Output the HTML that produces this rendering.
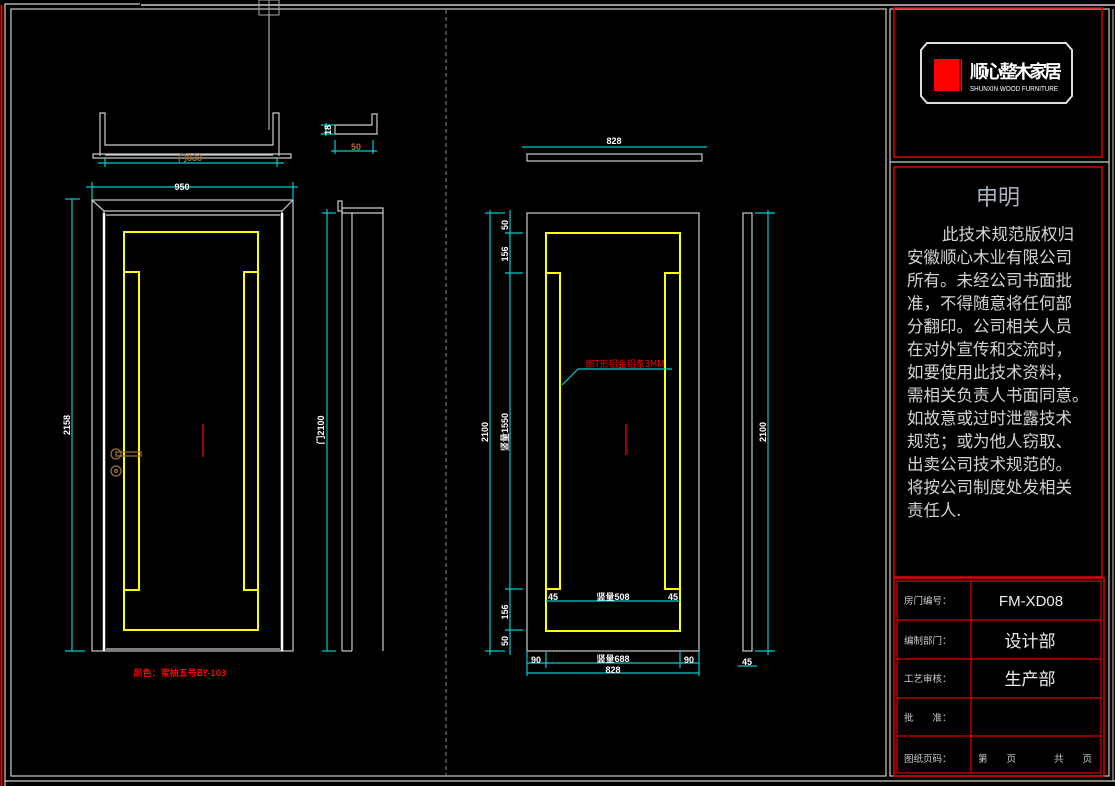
<!DOCTYPE html>
<html><head><meta charset="utf-8"><style>
html,body{margin:0;padding:0;background:#000;}
svg{display:block;font-family:"Liberation Sans","Noto Sans CJK SC",sans-serif;}
</style></head><body>
<svg width="1115" height="786" viewBox="0 0 1115 786" xmlns="http://www.w3.org/2000/svg">
<rect width="1115" height="786" fill="#000"/>
<!-- borders -->
<line x1="1.5" y1="5" x2="1.5" y2="786" stroke="#e00000" stroke-width="2"/>
<polyline points="5,786 5,4 140,4" fill="none" stroke="#ccc" stroke-width="1.2"/>
<line x1="141" y1="5" x2="1115" y2="5" stroke="#ccc" stroke-width="1.5"/>
<rect x="11" y="9" width="875" height="767" fill="none" stroke="#ccc" stroke-width="1.2"/>
<line x1="5" y1="781" x2="1115" y2="781" stroke="#ccc" stroke-width="1.2"/>
<rect x="890" y="9" width="219" height="767" fill="none" stroke="#ccc" stroke-width="1.2"/>
<line x1="890" y1="162" x2="1109" y2="162" stroke="#ccc" stroke-width="1.2"/>
<line x1="1113" y1="9" x2="1113" y2="781" stroke="#ccc" stroke-width="1"/>
<line x1="446" y1="10" x2="446" y2="776" stroke="#888" stroke-width="1" stroke-dasharray="4,3"/>
<!-- hanging line -->
<line x1="269" y1="0" x2="269" y2="130" stroke="#ccc" stroke-width="1"/>
<rect x="259" y="0" width="20" height="15" fill="none" stroke="#aaa" stroke-width="1"/>
<line x1="269" y1="0" x2="269" y2="15" stroke="#aaa"/>
<!-- right panel red boxes -->
<rect x="894" y="8" width="208" height="149" fill="none" stroke="#e00000" stroke-width="1.5"/>
<rect x="894" y="167" width="208" height="410" fill="none" stroke="#e00000" stroke-width="1.5"/>
<rect x="894" y="578" width="210" height="198" fill="none" stroke="#e00000" stroke-width="1.5"/>
<rect x="897" y="581" width="204" height="192" fill="none" stroke="#e00000" stroke-width="1.2"/>
<g stroke="#e00000" stroke-width="1.2">
<line x1="897" y1="620" x2="1101" y2="620"/><line x1="897" y1="659" x2="1101" y2="659"/>
<line x1="897" y1="698" x2="1101" y2="698"/><line x1="897" y1="736" x2="1101" y2="736"/>
<line x1="971" y1="581" x2="971" y2="773"/>
</g>
<!-- logo -->
<path d="M927,43 L1066,43 L1072,50 L1072,96 L1066,103 L927,103 L921,96 L921,50 Z" fill="none" stroke="#ddd" stroke-width="2"/>
<rect x="934" y="59" width="28" height="32" fill="#ff0000"/>
<line x1="960" y1="59" x2="960" y2="91" stroke="#000" stroke-width="1"/>
<text x="970" y="78" fill="#fff" font-size="18" font-weight="bold" font-family="'Noto Sans CJK SC',sans-serif" textLength="92">顺心整木家居</text>
<text x="970" y="91" fill="#fff" font-size="7" textLength="88" lengthAdjust="spacingAndGlyphs">SHUNXIN WOOD FURNITURE</text>
<!-- statement -->
<text x="998" y="205" fill="#aab4c0" font-size="22" text-anchor="middle" font-family="'Noto Sans CJK SC',sans-serif">申明</text>
<g fill="#d4d4d4" font-size="16.5" font-family="'Noto Sans CJK SC',sans-serif">
<text x="942" y="240">此技术规范版权归</text>
<text x="907" y="263">安徽顺心木业有限公司</text>
<text x="907" y="286">所有。未经公司书面批</text>
<text x="907" y="309">准，不得随意将任何部</text>
<text x="907" y="332">分翻印。公司相关人员</text>
<text x="907" y="355">在对外宣传和交流时，</text>
<text x="907" y="378">如要使用此技术资料，</text>
<text x="907" y="401">需相关负责人书面同意。</text>
<text x="907" y="424">如故意或过时泄露技术</text>
<text x="907" y="447">规范；或为他人窃取、</text>
<text x="907" y="470">出卖公司技术规范的。</text>
<text x="907" y="493">将按公司制度处发相关</text>
<text x="907" y="516">责任人.</text>
</g>
<!-- table text -->
<g fill="#ccc" font-size="9.5" font-family="'Noto Sans CJK SC',sans-serif">
<text x="904" y="604">房门编号：</text>
<text x="904" y="644">编制部门：</text>
<text x="904" y="682">工艺审核：</text>
<text x="904" y="721">批　　准：</text>
<text x="904" y="762">图纸页码：</text>
<text x="978" y="762">第　　页　　　　共　　页</text>
</g>
<g fill="#eee" text-anchor="middle" font-family="'Noto Sans CJK SC',sans-serif">
<text x="1031" y="606" font-size="15" font-family="'Liberation Sans',sans-serif">FM-XD08</text>
<text x="1030" y="647" font-size="17">设计部</text>
<text x="1030" y="685" font-size="17">生产部</text>
</g>

<!-- LEFT DOOR -->
<g fill="none" stroke="#ccc" stroke-width="1.2">
<!-- plan top -->
<polyline points="100,156 100,113 105,113 105,145 273,145 273,113 279,113 279,156"/>
<rect x="93" y="154" width="198" height="4"/>
<line x1="105" y1="155" x2="273" y2="155"/>
<polyline points="335,134 335,125 372,125 372,114 377,114 377,134 335,134"/>
<!-- frame -->
<rect x="92" y="200" width="201" height="451"/>
<line x1="92" y1="200" x2="104" y2="211"/><line x1="293" y1="200" x2="282" y2="211"/>
<line x1="104" y1="211" x2="282" y2="211"/>
<line x1="104" y1="211" x2="104" y2="651"/><line x1="282" y1="211" x2="282" y2="651"/>
<line x1="106" y1="215" x2="280" y2="215"/>
<line x1="106" y1="649" x2="280" y2="649"/>
<!-- side profile -->
<rect x="338" y="201" width="4" height="10"/>
<polyline points="342,208 383,208 383,651"/>
<line x1="342" y1="213" x2="383" y2="213"/>
<line x1="342" y1="211" x2="342" y2="651"/><line x1="352" y1="213" x2="352" y2="651"/>
<line x1="342" y1="651" x2="352" y2="651"/>
</g>
<line x1="104" y1="213" x2="104" y2="651" stroke="#fff" stroke-width="2.5"/>
<line x1="282" y1="213" x2="282" y2="651" stroke="#fff" stroke-width="2.5"/>
<g fill="none" stroke="#ffff00" stroke-width="2">
<rect x="124" y="232" width="134" height="398"/>
<polyline points="124,272 139,272 139,590 124,590"/>
<polyline points="258,272 244,272 244,590 258,590"/>
</g>
<!-- handle -->
<g fill="none" stroke="#a0703a" stroke-width="1.2">
<circle cx="116" cy="454" r="5"/><rect x="116" y="452" width="25" height="4"/>
<circle cx="116" cy="471" r="5"/><circle cx="116" cy="471" r="1.5"/>
</g>
<line x1="203" y1="424" x2="203" y2="457" stroke="#d00000" stroke-width="1.5"/>
<!-- left dims cyan -->
<g stroke="#00cccc" stroke-width="1.2" fill="none">
<line x1="72" y1="199" x2="72" y2="651"/><line x1="65" y1="199" x2="80" y2="199"/><line x1="65" y1="651" x2="85" y2="651"/>
<line x1="86" y1="187" x2="298" y2="187"/><line x1="92" y1="182" x2="92" y2="200"/><line x1="293" y1="182" x2="293" y2="200"/>
<line x1="98" y1="163" x2="284" y2="163"/><line x1="105" y1="158" x2="105" y2="167"/><line x1="277" y1="158" x2="277" y2="167"/>
<line x1="327" y1="209" x2="327" y2="651"/><line x1="322" y1="213" x2="336" y2="213"/><line x1="322" y1="651" x2="336" y2="651"/>
<line x1="326" y1="123" x2="326" y2="136"/><line x1="321" y1="125" x2="335" y2="125"/><line x1="321" y1="134" x2="335" y2="134"/>
<line x1="331" y1="151" x2="377" y2="151"/><line x1="335" y1="140" x2="335" y2="154"/><line x1="373" y1="140" x2="373" y2="154"/>
</g>
<g fill="#fff" font-size="9" font-weight="bold">
<text x="182" y="190" text-anchor="middle">950</text>
<text transform="translate(70,425) rotate(-90)" text-anchor="middle">2158</text>
<text transform="translate(324,430) rotate(-90)" text-anchor="middle">门2100</text>
<text transform="translate(331,130) rotate(-90)" text-anchor="middle">18</text>
</g>
<g fill="#a0703a" font-size="9" font-weight="bold">
<text x="190" y="161" text-anchor="middle">门838</text>
<text x="356" y="150" text-anchor="middle">50</text>
</g>
<text x="180" y="676" fill="#ff0000" font-size="9" font-weight="bold" text-anchor="middle" font-family="'Noto Sans CJK SC',sans-serif">颜色：蜜柚五号BY-103</text>

<!-- RIGHT DOOR -->
<g fill="none" stroke="#ccc" stroke-width="1.2">
<rect x="527" y="154" width="175" height="7"/>
<rect x="527" y="213" width="172" height="438"/>
<rect x="743" y="213" width="9" height="438"/>
</g>
<g fill="none" stroke="#ffff00" stroke-width="2">
<rect x="546" y="233" width="134" height="398"/>
<polyline points="546,273 560,273 560,589 546,589"/>
<polyline points="680,273 665,273 665,589 680,589"/>
</g>
<line x1="626" y1="424" x2="626" y2="455" stroke="#d00000" stroke-width="1.5"/>
<g stroke="#00cccc" stroke-width="1.2" fill="none">
<line x1="490" y1="210" x2="490" y2="655"/><line x1="485" y1="213" x2="505" y2="213"/><line x1="485" y1="651" x2="505" y2="651"/>
<line x1="510" y1="210" x2="510" y2="655"/><line x1="505" y1="233" x2="523" y2="233"/><line x1="505" y1="273" x2="523" y2="273"/>
<line x1="505" y1="589" x2="523" y2="589"/><line x1="505" y1="630" x2="523" y2="630"/>
<line x1="768" y1="210" x2="768" y2="655"/><line x1="755" y1="213" x2="775" y2="213"/><line x1="755" y1="651" x2="775" y2="651"/>
<line x1="546" y1="601" x2="680" y2="601"/>
<line x1="527" y1="663" x2="699" y2="663"/><line x1="527" y1="673" x2="699" y2="673"/>
<line x1="527" y1="651" x2="527" y2="676"/><line x1="546" y1="651" x2="546" y2="668"/>
<line x1="680" y1="651" x2="680" y2="668"/><line x1="699" y1="651" x2="699" y2="676"/>
<line x1="738" y1="666" x2="757" y2="666"/>
<line x1="522" y1="147" x2="707" y2="147"/>
<polyline points="562,385 578,369 672,369"/>
</g>
<g fill="#fff" font-size="9" font-weight="bold">
<text x="614" y="144" text-anchor="middle">828</text>
<text transform="translate(488,432) rotate(-90)" text-anchor="middle">2100</text>
<text transform="translate(508,432) rotate(-90)" text-anchor="middle">竖量1550</text>
<text transform="translate(508,225) rotate(-90)" text-anchor="middle">50</text>
<text transform="translate(508,254) rotate(-90)" text-anchor="middle">156</text>
<text transform="translate(508,612) rotate(-90)" text-anchor="middle">156</text>
<text transform="translate(508,641) rotate(-90)" text-anchor="middle">50</text>
<text transform="translate(766,432) rotate(-90)" text-anchor="middle">2100</text>
<text x="613" y="600" text-anchor="middle">竖量508</text>
<text x="553" y="600" text-anchor="middle">45</text>
<text x="673" y="600" text-anchor="middle">45</text>
<text x="613" y="662" text-anchor="middle">竖量688</text>
<text x="536" y="663" text-anchor="middle">90</text>
<text x="689" y="663" text-anchor="middle">90</text>
<text x="613" y="673" text-anchor="middle">828</text>
<text x="747" y="665" text-anchor="middle">45</text>
</g>
<text x="625" y="367" fill="#ff0000" font-size="9" text-anchor="middle" font-family="'Noto Sans CJK SC',sans-serif">嵌T形铝金铝条3MM</text>
</svg>
</body></html>
